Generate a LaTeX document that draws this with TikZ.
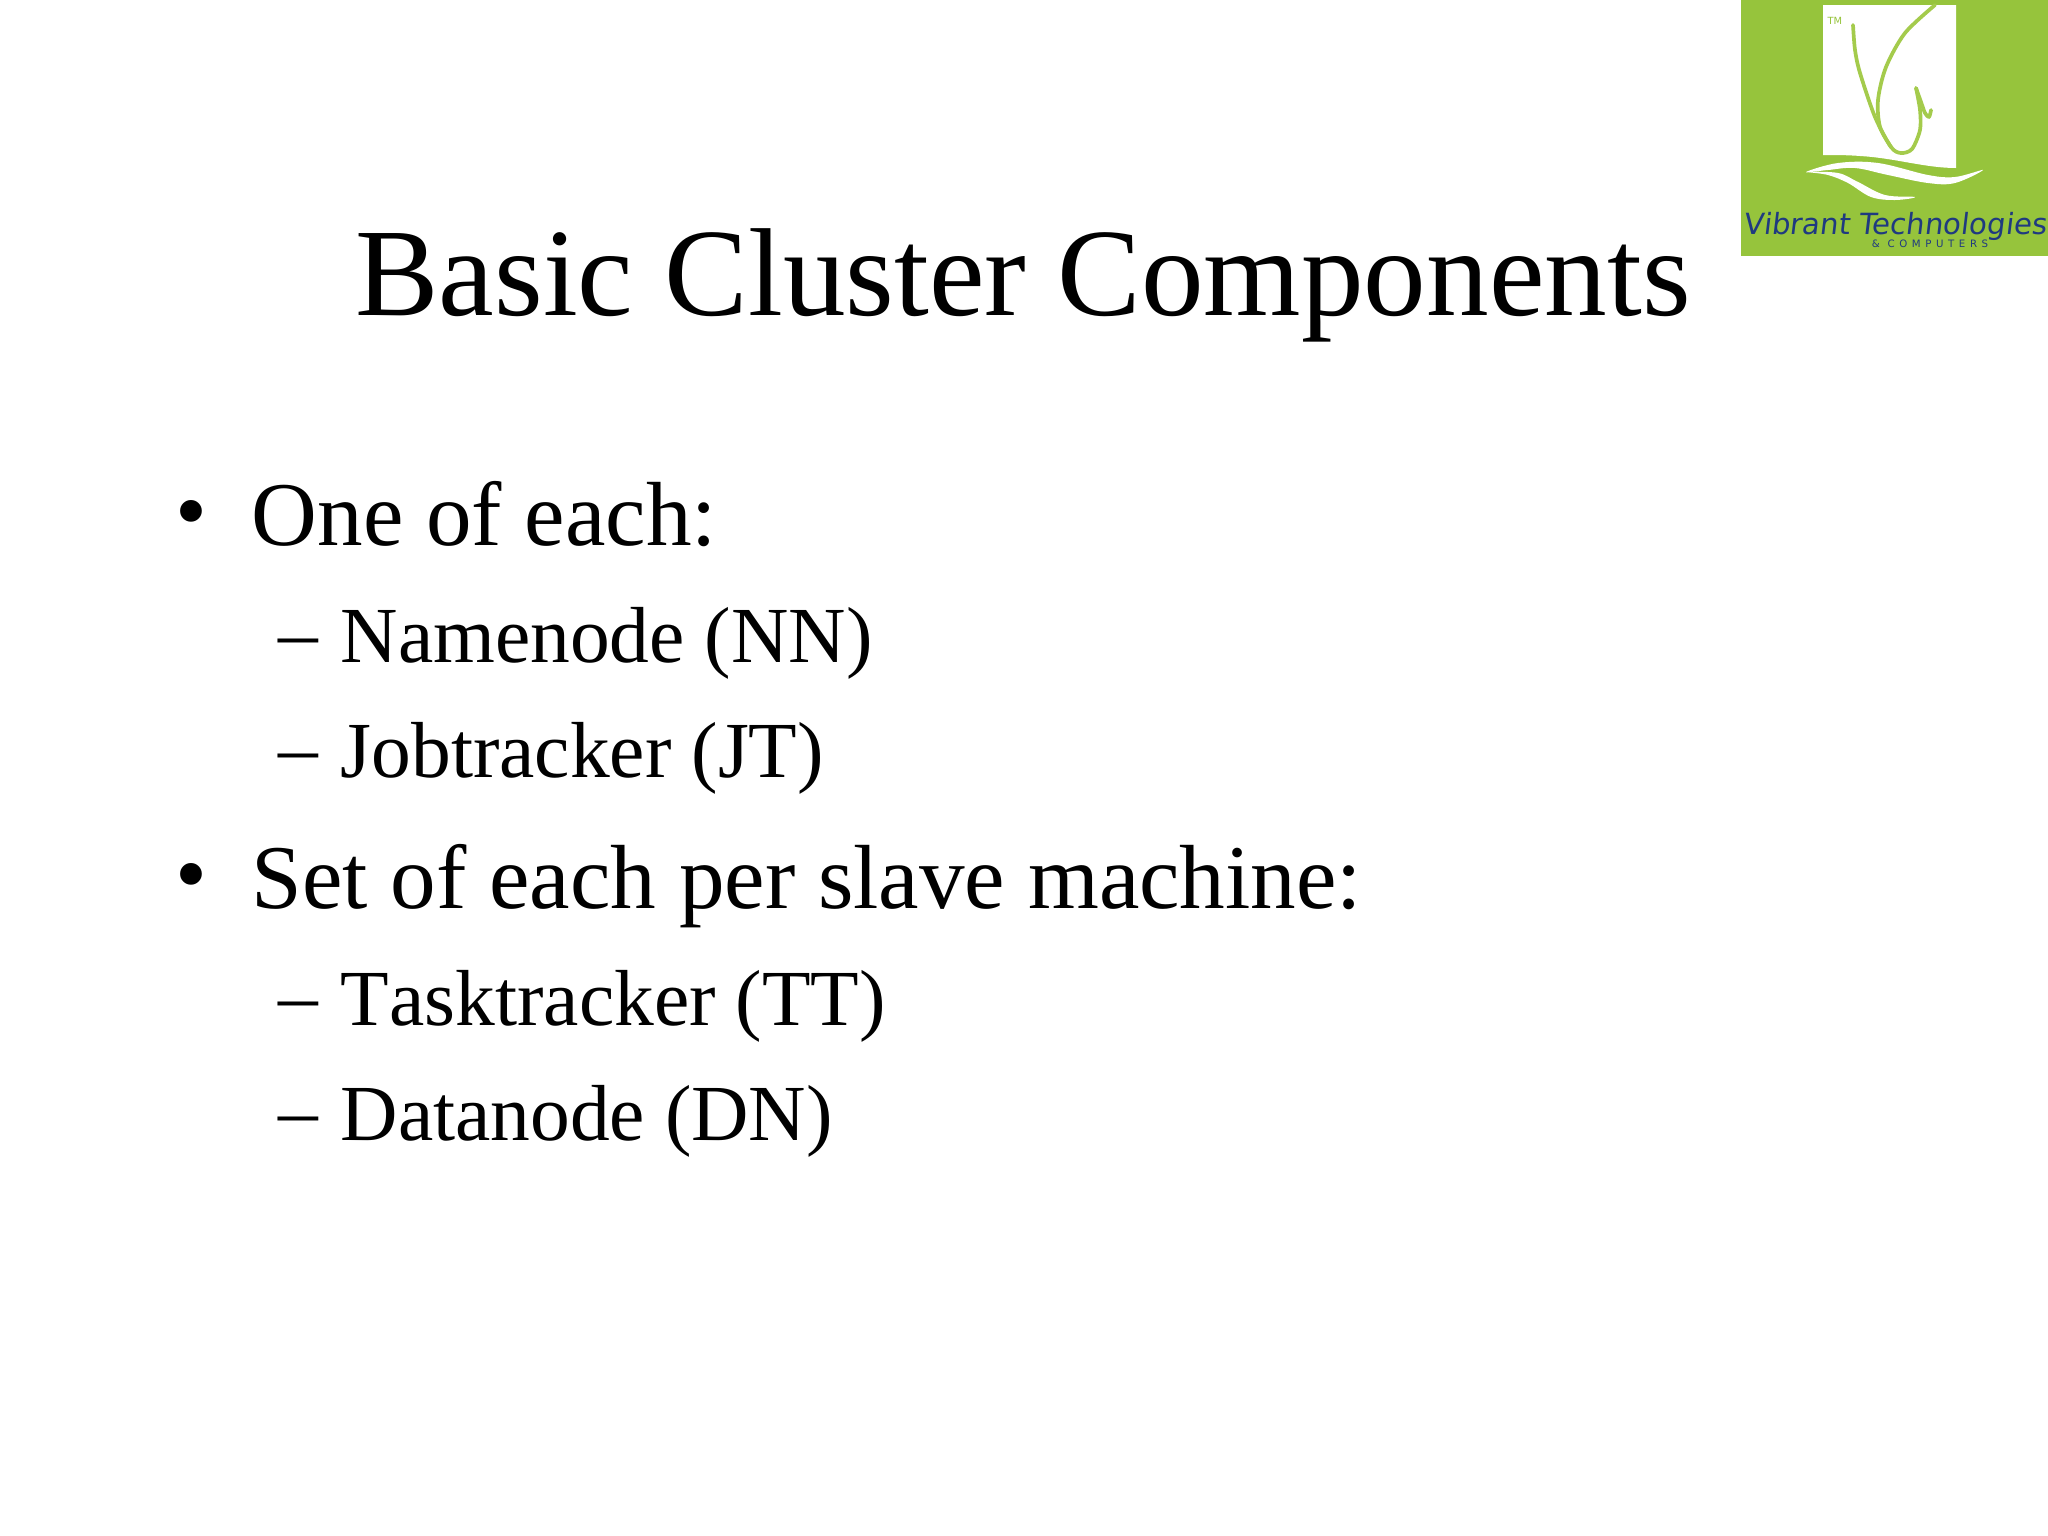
\documentclass[tikz,border=0pt]{standalone}
\usepackage{fontspec}
\setmainfont{Liberation Serif}
\newfontfamily\logofont[FakeSlant=0.12]{DejaVu Sans}
\newfontfamily\logosubfont[LetterSpace=45]{DejaVu Sans}
\newfontfamily\logotmfont{DejaVu Sans}
\definecolor{logogreen}{HTML}{96C43C}
\definecolor{logoline}{HTML}{A4CB4C}
\definecolor{logoblue}{HTML}{1F3A80}
\tikzset{
  x=0.01cm,y=-0.01cm,
  titletext/.style={anchor=base,inner sep=0,font=\fontsize{35.6}{40}\selectfont},
  bigitem/.style={anchor=base west,inner sep=0,font=\fontsize{25.9}{30}\selectfont},
  subitem/.style={anchor=base west,inner sep=0,font=\fontsize{22.6}{26}\selectfont},
  logostroke/.style={draw=logoline,line width=1.05pt,line cap=round,line join=round},
}
\begin{document}
\begin{tikzpicture}
\useasboundingbox (0,0) rectangle (2048,1536);
\fill[white] (0,0) rectangle (2048,1536);
% logo
\fill[logogreen] (1741,0) rectangle (2048,256);
\fill[white] (1823,5) -- (1956,5) -- (1956,168) .. controls (1925,168) and (1895,158) .. (1860,156) .. controls (1848,155) and (1835,155) .. (1823,155) -- cycle;
\path[logostroke] plot[smooth] coordinates {(1853,25) (1855,50) (1860,73) (1875,117) (1891,147) (1901,153) (1912,149) (1920,130) (1920,110) (1916,88)};
\path[logostroke] plot[smooth] coordinates {(1916,88) (1921,102) (1925,113) (1929,117) (1931,110)};
\path[logostroke] plot[smooth] coordinates {(1935,5) (1905,33) (1886,67) (1878,100) (1880,127) (1891,147)};
\fill[white] plot[smooth cycle,tension=0.6] coordinates {(1806,172) (1838,163) (1878,163) (1928,175) (1955,177) (1983,170) (1955,183) (1928,183) (1888,175) (1855,168) (1828,170)};
\fill[white] plot[smooth cycle,tension=0.6] coordinates {(1808,172) (1838,173) (1858,182) (1885,195) (1915,197) (1895,200) (1871,197) (1848,183) (1828,175)};
\node[anchor=base,inner sep=0,text=logoblue,font=\logofont\fontsize{8.3}{10}\selectfont] (logoname) at (1895,234) {Vibrant Technologies};
\node[anchor=base,inner sep=0,text=logoblue,font=\logosubfont\fontsize{2.9}{3}\selectfont] (logosub) at (1930,247) {\& COMPUTERS};
\node[anchor=base west,inner sep=0,text=logogreen,font=\logotmfont\fontsize{2.8}{3}\selectfont] (logotm) at (1827,24) {TM};
% text
\node[titletext] (title) at (1023,315) {Basic Cluster Components};
\node[bigitem] (b1) at (175,541.5) {•};
\node[bigitem] (t1) at (251,545.5) {One of each:};
\node[subitem] (d1) at (278,659.5) {–};
\node[subitem] (t2) at (340,662.5) {Namenode (NN)};
\node[subitem] (d2) at (278,774.5) {–};
\node[subitem] (t3) at (340,777.5) {Jobtracker (JT)};
\node[bigitem] (b2) at (175,904) {•};
\node[bigitem] (t4) at (251,908) {Set of each per slave machine:};
\node[subitem] (d3) at (278,1022.5) {–};
\node[subitem] (t5) at (340,1025.5) {T\kern0pt asktracker (TT)};
\node[subitem] (d4) at (278,1137.5) {–};
\node[subitem] (t6) at (340,1140.5) {Datanode (DN)};
\end{tikzpicture}
\end{document}
